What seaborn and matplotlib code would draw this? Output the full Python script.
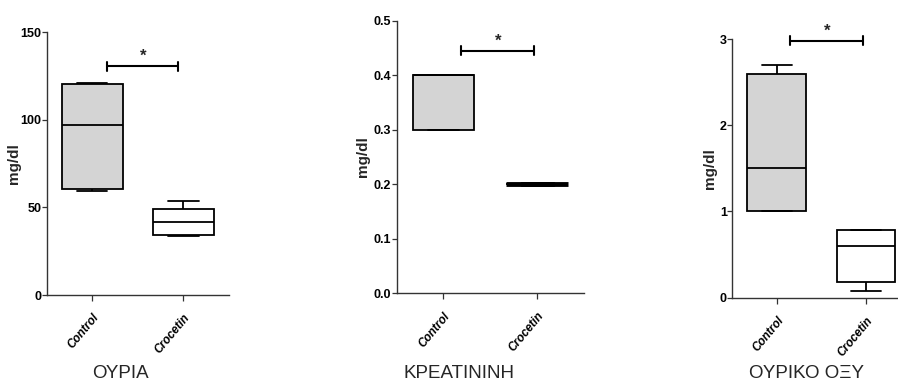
import pandas as pd
import matplotlib
matplotlib.use("Agg")
import matplotlib.pyplot as plt
import seaborn as sns

# ======= DATA =======
groups = ["Control", "Crocetin"]
# five values per group: min, Q1, median, Q3, max
urea_control = [59.5, 60.5, 97.0, 120.5, 121.0]
urea_crocetin = [33.7, 34.3, 41.8, 48.8, 53.6]
creat_control = [0.3, 0.3, 0.4, 0.4, 0.4]
creat_crocetin = [0.2, 0.2, 0.2, 0.2, 0.2]
uric_control = [1.0, 1.0, 1.5, 2.6, 2.7]
uric_crocetin = [0.08, 0.18, 0.6, 0.78, 0.79]

titles = ["ΟΥΡΙΑ", "ΚΡΕΑΤΙΝΙΝΗ", "ΟΥΡΙΚΟ ΟΞΥ"]
ylims = [(0, 150), (0, 0.5), (0, 3)]
yticks = [[0, 50, 100, 150], [0.0, 0.1, 0.2, 0.3, 0.4, 0.5], [0, 1, 2, 3]]
yticklabels = [["0", "50", "100", "150"],
               ["0.0", "0.1", "0.2", "0.3", "0.4", "0.5"],
               ["0", "1", "2", "3"]]
sig_y = [130.4, 0.445, 2.98]
sig_x = [(0.165, 0.945), (0.19, 0.97), (0.15, 0.97)]
# ====================

sns.set_style("ticks")
plt.rcParams["font.family"] = ["Liberation Sans Narrow", "Liberation Sans", "DejaVu Sans"]

panels = [
    (urea_control, urea_crocetin),
    (creat_control, creat_crocetin),
    (uric_control, uric_crocetin),
]

# axes rectangles in figure fractions
positions = [
    [0.0523, 0.2257, 0.2027, 0.690],
    [0.4417, 0.2302, 0.2086, 0.7155],
    [0.8155, 0.2186, 0.1985, 0.679],
]
ylabel_x = [-0.1445, -0.1425, -0.0875]
title_x = [120.5 / 898, 459 / 898, 806.7 / 898]

fig = plt.figure(figsize=(8.98, 3.81), dpi=100)
spine_col = "#333333"

for i, (ctrl, croc) in enumerate(panels):
    ax = fig.add_axes(positions[i])
    df = pd.DataFrame({
        "group": [groups[0]] * len(ctrl) + [groups[1]] * len(croc),
        "value": ctrl + croc,
    })
    sns.boxplot(
        data=df, x="group", y="value", hue="group",
        palette={"Control": "#d4d4d4", "Crocetin": "white"},
        whis=(0, 100), width=0.66, linewidth=1.3, linecolor="black",
        ax=ax, legend=False,
    )
    # the collapsed crocetin box in the creatinine panel shows as a thick bar
    if i == 1:
        for ln in ax.lines:
            yd = ln.get_ydata()
            if len(yd) and all(abs(v - 0.2) < 1e-9 for v in yd):
                ln.set_linewidth(3.5)

    ax.set_xlim(-0.5, 1.5)
    ax.set_ylim(*ylims[i])
    ax.set_yticks(yticks[i])
    ax.set_yticklabels(yticklabels[i], fontsize=9, fontweight="bold")
    ax.set_xticks([0, 1])
    ax.set_xticklabels(groups, rotation=50, ha="right", rotation_mode="anchor",
                       fontsize=8.5, fontweight="bold", style="italic")
    ax.set_xlabel("")
    ax.set_ylabel("mg/dl", fontsize=11, fontweight="bold")
    ax.yaxis.set_label_coords(ylabel_x[i], 0.5)
    sns.despine(ax=ax)
    for s in ("left", "bottom"):
        ax.spines[s].set_color(spine_col)
        ax.spines[s].set_linewidth(1.0)
    ax.tick_params(axis="y", length=3.5, width=0.9, pad=0.5, colors=spine_col, labelcolor="black")
    ax.tick_params(axis="x", length=4, width=0.9, pad=8, colors=spine_col, labelcolor="black")

    # significance bar
    x0, x1 = sig_x[i]
    y = sig_y[i]
    h = (ylims[i][1] - ylims[i][0]) * 0.017
    ax.plot([x0, x1], [y, y], color="black", lw=1.5, clip_on=False)
    ax.plot([x0, x0], [y - h, y + h], color="black", lw=1.5, clip_on=False)
    ax.plot([x1, x1], [y - h, y + h], color="black", lw=1.5, clip_on=False)
    ax.text((x0 + x1) / 2, y + h * 0.5, "*", ha="center", va="bottom",
            fontsize=12, fontweight="bold")

    fig.text(title_x[i], 2.5 / 381, titles[i], ha="center", va="baseline", fontsize=13.5)

fig.savefig("out.png", dpi=100)
